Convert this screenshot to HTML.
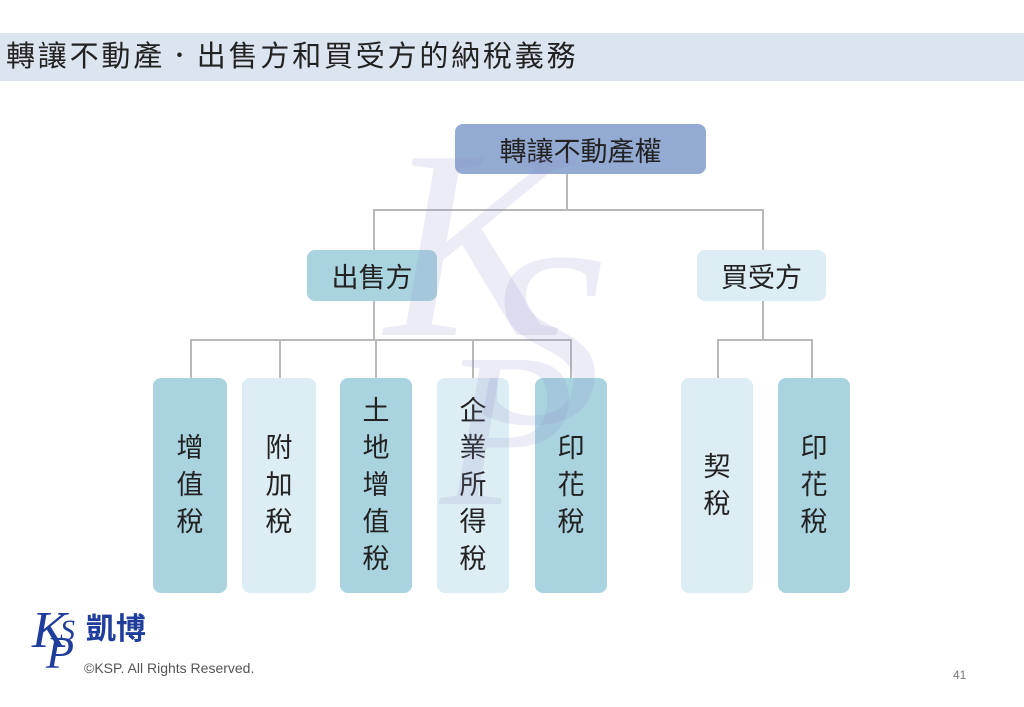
<!DOCTYPE html>
<html><head><meta charset="utf-8"><style>
body{margin:0;width:1024px;height:707px;background:#fff;position:relative;overflow:hidden;font-family:"Liberation Sans","Noto Sans CJK TC",sans-serif;color:#222}
.ban{position:absolute;left:0;top:33px;width:1024px;height:48px;background:#dce4ef;font-size:29px;letter-spacing:2.8px;line-height:48px;padding-left:6px;box-sizing:border-box;color:#222}
.b{position:absolute;border-radius:8px;display:flex;align-items:center;justify-content:center;font-size:27px}
.v{flex-direction:column;line-height:37px}
.l{position:absolute;background:#b9b9b9}
.d{background:#a9d3df}.lt{background:#dcedf3}
.wm{position:absolute;font-family:"Liberation Serif",serif;font-style:italic;color:rgba(140,140,200,0.17)}
</style></head><body>
<div class="ban">轉讓不動產．出售方和買受方的納稅義務</div>
<div class="l" style="left:566px;top:174px;width:2px;height:37px"></div>
<div class="l" style="left:373px;top:209px;width:391px;height:2px"></div>
<div class="l" style="left:373px;top:209px;width:2px;height:41px"></div>
<div class="l" style="left:762px;top:209px;width:2px;height:41px"></div>
<div class="l" style="left:373px;top:301px;width:2px;height:40px"></div>
<div class="l" style="left:190px;top:339px;width:382px;height:2px"></div>
<div class="l" style="left:190px;top:339px;width:2px;height:39px"></div>
<div class="l" style="left:279px;top:339px;width:2px;height:39px"></div>
<div class="l" style="left:375px;top:339px;width:2px;height:39px"></div>
<div class="l" style="left:472px;top:339px;width:2px;height:39px"></div>
<div class="l" style="left:570px;top:339px;width:2px;height:39px"></div>
<div class="l" style="left:762px;top:301px;width:2px;height:40px"></div>
<div class="l" style="left:717px;top:339px;width:96px;height:2px"></div>
<div class="l" style="left:717px;top:339px;width:2px;height:39px"></div>
<div class="l" style="left:811px;top:339px;width:2px;height:39px"></div>
<div class="b" style="left:455px;top:124px;width:251px;height:50px;background:#93aad2">轉讓不動產權</div>
<div class="b d" style="left:307px;top:250px;width:130px;height:51px">出售方</div>
<div class="b lt" style="left:697px;top:250px;width:129px;height:51px">買受方</div>
<div class="b v d" style="left:153px;top:378px;width:74px;height:215px"><span>增</span><span>值</span><span>稅</span></div>
<div class="b v lt" style="left:242px;top:378px;width:74px;height:215px"><span>附</span><span>加</span><span>稅</span></div>
<div class="b v d" style="left:340px;top:378px;width:72px;height:215px"><span>土</span><span>地</span><span>增</span><span>值</span><span>稅</span></div>
<div class="b v lt" style="left:437px;top:378px;width:72px;height:215px"><span>企</span><span>業</span><span>所</span><span>得</span><span>稅</span></div>
<div class="b v d" style="left:535px;top:378px;width:72px;height:215px"><span>印</span><span>花</span><span>稅</span></div>
<div class="b v lt" style="left:681px;top:378px;width:72px;height:215px"><span>契</span><span>稅</span></div>
<div class="b v d" style="left:778px;top:378px;width:72px;height:215px"><span>印</span><span>花</span><span>稅</span></div>
<div class="wm" style="left:385px;top:110px;font-size:270px;line-height:270px">K</div>
<div class="wm" style="left:480px;top:215px;font-size:250px;line-height:250px">S</div>
<div class="wm" style="left:440px;top:320px;font-size:220px;line-height:220px">P</div>
<div style="position:absolute;left:32px;top:605px;font-family:'Liberation Serif',serif;font-style:italic;font-size:52px;color:#1f3d9a;line-height:52px">K</div>
<div style="position:absolute;left:46px;top:630px;font-family:'Liberation Serif',serif;font-style:italic;font-size:46px;color:#1f3d9a;line-height:46px">P</div>
<div style="position:absolute;left:60px;top:616px;font-family:'Liberation Serif',serif;font-style:italic;font-size:30px;color:#1f3d9a;line-height:30px">S</div>
<div style="position:absolute;left:86px;top:612px;font-size:30px;font-weight:bold;color:#1f3d9a;line-height:36px">凱博</div>
<div style="position:absolute;left:84px;top:659px;font-size:14px;color:#555;line-height:18px">©KSP. All Rights Reserved.</div>
<div style="position:absolute;left:953px;top:668px;font-size:12px;color:#777">41</div>
</body></html>
